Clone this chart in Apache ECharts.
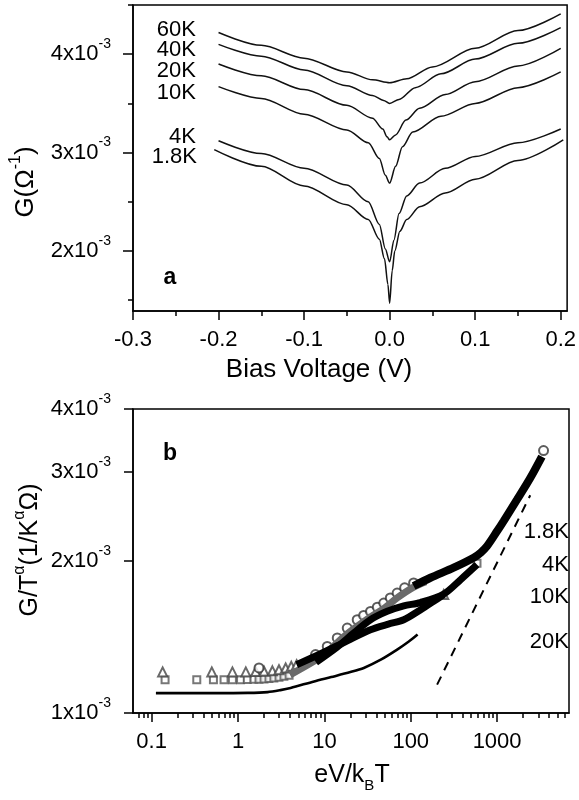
<!DOCTYPE html>
<html>
<head>
<meta charset="utf-8">
<script src="https://cdn.jsdelivr.net/npm/echarts@6/dist/echarts.min.js"></script>
<style>
  html, body { margin: 0; padding: 0; background: #fff; }
  #chart { width: 579px; height: 800px; }
</style>
</head>
<body>
<div id="chart"></div>
<script>
// ---- panel a: G (in 1e-3 1/Ohm) vs bias voltage (V) ----
const g60K = [[-0.2,4.22],[-0.15,4.09],[-0.1,3.96],[-0.05,3.82],[-0.02,3.74],[0,3.71],[0.02,3.75],[0.05,3.87],[0.1,4.06],[0.15,4.24],[0.2,4.41]];
const g40K = [[-0.2,4.10],[-0.15,3.98],[-0.1,3.84],[-0.05,3.68],[-0.02,3.58],[-0.007,3.53],[0,3.50],[0.011,3.54],[0.03,3.66],[0.06,3.80],[0.1,3.95],[0.15,4.11],[0.2,4.27]];
const g20K = [[-0.2,3.90],[-0.15,3.78],[-0.1,3.64],[-0.05,3.48],[-0.02,3.35],[-0.008,3.24],[-0.003,3.16],[0,3.13],[0.007,3.18],[0.019,3.33],[0.035,3.45],[0.065,3.59],[0.1,3.72],[0.15,3.88],[0.2,4.06]];
const g10K = [[-0.2,3.67],[-0.15,3.55],[-0.1,3.39],[-0.05,3.23],[-0.025,3.10],[-0.012,2.94],[-0.005,2.77],[0,2.69],[0.007,2.86],[0.015,3.06],[0.027,3.21],[0.06,3.37],[0.1,3.50],[0.15,3.66],[0.2,3.82]];
const g4K = [[-0.2,3.12],[-0.15,2.99],[-0.1,2.84],[-0.05,2.67],[-0.025,2.50],[-0.012,2.27],[-0.005,2.02],[0,1.89],[0.005,2.11],[0.011,2.38],[0.02,2.56],[0.035,2.69],[0.065,2.84],[0.1,2.96],[0.15,3.10],[0.2,3.24]];
const g1p8K = [[-0.205,3.03],[-0.15,2.86],[-0.1,2.66],[-0.05,2.47],[-0.025,2.32],[-0.012,2.12],[-0.006,1.92],[-0.002,1.66],[0,1.47],[0.003,1.80],[0.006,2.0],[0.012,2.2],[0.02,2.32],[0.035,2.45],[0.065,2.59],[0.1,2.73],[0.15,2.92],[0.203,3.13]];

const biasTicks = [-0.3, -0.2, -0.1, 0, 0.1, 0.2];
const biasMinorTicks = [-0.25, -0.15, -0.05, 0.05, 0.15];
const gTicks = [2, 3, 4];
const gMinorTicks = [1.5, 2.5, 3.5, 4.5];

// ---- panel b: G/T^alpha (in 1e-3) vs eV/kBT, log-log ----
const line20K = [[0.112,1.095],[0.5,1.095],[1.3,1.096],[2.2,1.10],[3.1,1.11],[4.06,1.121],[7.6,1.155],[12,1.178],[20,1.205],[28.6,1.228],[45,1.275],[69.6,1.335],[95,1.385],[120,1.43]];
const fitLine = [[202,1.138],[2420,2.70]];
const tri10K = [[0.134,1.206],[0.497,1.206],[0.861,1.206],[1.23,1.206],[1.6,1.208],[2.0,1.21],[2.5,1.212],[2.98,1.218],[3.56,1.228],[4.14,1.237],[4.77,1.246],[241,1.716]];
const sq4K = [[0.143,1.164],[0.333,1.164],[0.519,1.164],[0.689,1.164],[0.861,1.164],[1.07,1.164],[1.28,1.165],[1.53,1.166],[1.75,1.167],[2.0,1.168],[2.28,1.17],[2.6,1.173],[2.98,1.177],[3.4,1.182],[3.9,1.188],[585,1.98]];
const circ1p8K = [[1.75,1.228],[7.9,1.305],[10.8,1.355],[14.1,1.408],[18.4,1.473],[24,1.53],[28.5,1.56],[34.2,1.589],[41,1.62],[48.7,1.651],[58,1.69],[69.6,1.728],[85,1.77],[108,1.809],[3450,3.31]];
// dense overlapping markers read as bands
const band1p8K = [[108,1.784],[169,1.853],[314,1.94],[535,2.03],[650,2.08],[764,2.14],[997,2.29],[1190,2.40],[1700,2.645],[2420,2.92],[3300,3.22]];
const band4Ka = [[4,1.19],[7.9,1.272],[10.8,1.322],[18.4,1.435],[34.2,1.55],[48.7,1.61],[69.6,1.69],[108,1.775],[150,1.82]];
const band4Kb = [[8,1.26],[14,1.35],[21.9,1.44],[34.2,1.53],[53.4,1.59],[83,1.63],[129,1.655],[241,1.72],[376,1.836],[585,1.967]];
const band10K = [[4.77,1.246],[9.04,1.31],[18.4,1.39],[34.2,1.462],[55,1.50],[83,1.53],[129,1.60],[180,1.66],[241,1.716]];

const eTicks = [0.1, 1, 10, 100, 1000];
const eMinorTicks = [0.07,0.08,0.09,0.2,0.3,0.4,0.5,0.6,0.7,0.8,0.9,2,3,4,5,6,7,8,9,20,30,40,50,60,70,80,90,200,300,400,500,600,700,800,900,2000,3000,4000,5000,6000];
const nTicks = [1, 2, 3, 4];

const FONT = 'Liberation Sans, Arial, sans-serif';
const supRich = {
  b: { fontSize: 22, fontFamily: FONT, color: '#000', lineHeight: 34 },
  s: { fontSize: 14, fontFamily: FONT, color: '#000', verticalAlign: 'top', lineHeight: 16 }
};
const sciLabel = (v) => '{b|' + Math.round(v) + 'x10}{s|-3}';

const chart = echarts.init(document.getElementById('chart'), null, { renderer: 'canvas' });

const axisLineStyle = { color: '#000', width: 1.5 };

function majorX(grid, type, min, max, ticks, fmt) {
  return {
    type: type, gridIndex: grid, min: min, max: max, position: 'bottom',
    axisLine: { show: true, onZero: false, lineStyle: axisLineStyle },
    axisTick: { show: true, customValues: ticks, length: 9, lineStyle: axisLineStyle },
    axisLabel: { show: true, customValues: ticks, formatter: fmt, fontSize: 22, fontFamily: FONT, color: '#000', margin: 18 },
    splitLine: { show: false }
  };
}
function minorX(grid, type, min, max, ticks) {
  return {
    type: type, gridIndex: grid, min: min, max: max, position: 'bottom',
    axisLine: { show: false, onZero: false },
    axisTick: { show: true, customValues: ticks, length: 5, lineStyle: axisLineStyle },
    axisLabel: { show: false },
    splitLine: { show: false }
  };
}

const topLine = (data) => ({
  type: 'line', xAxisIndex: 0, yAxisIndex: 0, data: data,
  showSymbol: false, smooth: 0.3, smoothMonotone: 'x',
  lineStyle: { color: '#111', width: 1.5 }, silent: true
});
const band = (data, color, width) => ({
  type: 'line', xAxisIndex: 2, yAxisIndex: 2, data: data,
  showSymbol: false, smooth: 0.3, lineStyle: { color: color, width: width }, silent: true
});
const marks = (data, symbol, size, color) => ({
  type: 'scatter', xAxisIndex: 2, yAxisIndex: 2, data: data,
  symbol: symbol, symbolSize: size,
  itemStyle: { color: color, borderWidth: 1 }, silent: true
});

const option = {
  animation: false,
  backgroundColor: '#fff',
  grid: [
    { left: 133, top: 5, width: 436, height: 306, show: true, borderColor: '#000', borderWidth: 1.5 },
    { left: 133, top: 409, width: 436, height: 304, show: true, borderColor: '#000', borderWidth: 1.5 }
  ],
  xAxis: [
    majorX(0, 'value', -0.3, 0.2075, biasTicks, (v) => Number(v).toFixed(1)),
    minorX(0, 'value', -0.3, 0.2075, biasMinorTicks),
    majorX(1, 'log', 0.0608, 6800, eTicks, (v) => String(Number(v))),
    minorX(1, 'log', 0.0608, 6800, eMinorTicks)
  ],
  yAxis: [
    {
      type: 'value', gridIndex: 0, min: 1.39, max: 4.5,
      axisLine: { show: true, onZero: false, lineStyle: axisLineStyle },
      axisTick: { show: true, customValues: gTicks, length: 10, lineStyle: axisLineStyle },
      axisLabel: { show: true, customValues: gTicks, formatter: sciLabel, rich: supRich, margin: 22 },
      splitLine: { show: false }
    },
    {
      type: 'value', gridIndex: 0, min: 1.39, max: 4.5, position: 'left',
      axisLine: { show: false, onZero: false },
      axisTick: { show: true, customValues: gMinorTicks, length: 5, lineStyle: axisLineStyle },
      axisLabel: { show: false },
      splitLine: { show: false }
    },
    {
      type: 'log', gridIndex: 1, min: 1, max: 4,
      axisLine: { show: true, onZero: false, lineStyle: axisLineStyle },
      axisTick: { show: true, customValues: nTicks, length: 9, lineStyle: axisLineStyle },
      axisLabel: { show: true, customValues: nTicks, formatter: sciLabel, rich: supRich, margin: 22 },
      splitLine: { show: false }
    }
  ],
  series: [
    topLine(g60K), topLine(g40K), topLine(g20K), topLine(g10K), topLine(g4K), topLine(g1p8K),
    band(line20K, '#000', 2.6),
    {
      type: 'line', xAxisIndex: 2, yAxisIndex: 2, data: fitLine, showSymbol: false,
      lineStyle: { color: '#000', width: 2, type: [9, 7] }, silent: true
    },
    band(band4Ka, '#6a6a6a', 7),
    band(band10K, '#000', 7),
    band(band4Kb, '#000', 7),
    band(band1p8K, '#000', 8),
    marks(sq4K, 'emptyRect', 7, '#555'),
    marks(tri10K, 'emptyTriangle', 9, '#444'),
    marks(circ1p8K, 'emptyCircle', 9, '#333')
  ],
  graphic: [
    // panel a annotations
    { type: 'text', x: 196, y: 30, style: { text: '60K', fontSize: 22, fontFamily: FONT, fill: '#000', align: 'right', verticalAlign: 'middle' } },
    { type: 'text', x: 196, y: 50, style: { text: '40K', fontSize: 22, fontFamily: FONT, fill: '#000', align: 'right', verticalAlign: 'middle' } },
    { type: 'text', x: 196, y: 71, style: { text: '20K', fontSize: 22, fontFamily: FONT, fill: '#000', align: 'right', verticalAlign: 'middle' } },
    { type: 'text', x: 196, y: 93, style: { text: '10K', fontSize: 22, fontFamily: FONT, fill: '#000', align: 'right', verticalAlign: 'middle' } },
    { type: 'text', x: 196, y: 137, style: { text: '4K', fontSize: 22, fontFamily: FONT, fill: '#000', align: 'right', verticalAlign: 'middle' } },
    { type: 'text', x: 197, y: 157, style: { text: '1.8K', fontSize: 22, fontFamily: FONT, fill: '#000', align: 'right', verticalAlign: 'middle' } },
    { type: 'text', x: 170, y: 278, style: { text: 'a', fontSize: 23, fontWeight: 'bold', fontFamily: FONT, fill: '#000', align: 'center', verticalAlign: 'middle' } },
    { type: 'text', x: 319, y: 370, style: { text: 'Bias Voltage (V)', fontSize: 26, fontFamily: FONT, fill: '#000', align: 'center', verticalAlign: 'middle' } },
    {
      type: 'text', x: 26, y: 182, rotation: Math.PI / 2,
      style: {
        text: '{b|G(Ω}{s|-1}{b|)}', align: 'center', verticalAlign: 'middle',
        rich: { b: { fontSize: 26, fontFamily: FONT, fill: '#000', lineHeight: 36 }, s: { fontSize: 16, fontFamily: FONT, fill: '#000', verticalAlign: 'top', lineHeight: 18 } }
      }
    },
    // panel b annotations
    { type: 'text', x: 170, y: 454, style: { text: 'b', fontSize: 23, fontWeight: 'bold', fontFamily: FONT, fill: '#000', align: 'center', verticalAlign: 'middle' } },
    { type: 'text', x: 569, y: 532, style: { text: '1.8K', fontSize: 22, fontFamily: FONT, fill: '#000', align: 'right', verticalAlign: 'middle' } },
    { type: 'text', x: 569, y: 565, style: { text: '4K', fontSize: 22, fontFamily: FONT, fill: '#000', align: 'right', verticalAlign: 'middle' } },
    { type: 'text', x: 569, y: 597, style: { text: '10K', fontSize: 22, fontFamily: FONT, fill: '#000', align: 'right', verticalAlign: 'middle' } },
    { type: 'text', x: 569, y: 642, style: { text: '20K', fontSize: 22, fontFamily: FONT, fill: '#000', align: 'right', verticalAlign: 'middle' } },
    {
      type: 'text', x: 352, y: 775,
      style: {
        text: '{b|eV/k}{u|B}{b|T}', align: 'center', verticalAlign: 'middle',
        rich: { b: { fontSize: 25, fontFamily: FONT, fill: '#000', lineHeight: 36 }, u: { fontSize: 15, fontFamily: FONT, fill: '#000', verticalAlign: 'bottom', lineHeight: 18 } }
      }
    },
    {
      type: 'text', x: 30, y: 550, rotation: Math.PI / 2,
      style: {
        text: '{b|G/T}{s|α}{b|(1/K}{s|α}{b|Ω)}', align: 'center', verticalAlign: 'middle',
        rich: { b: { fontSize: 25, fontFamily: FONT, fill: '#000', lineHeight: 36 }, s: { fontSize: 16, fontFamily: FONT, fill: '#000', verticalAlign: 'top', lineHeight: 18 } }
      }
    }
  ]
};

chart.setOption(option);
</script>
</body>
</html>
